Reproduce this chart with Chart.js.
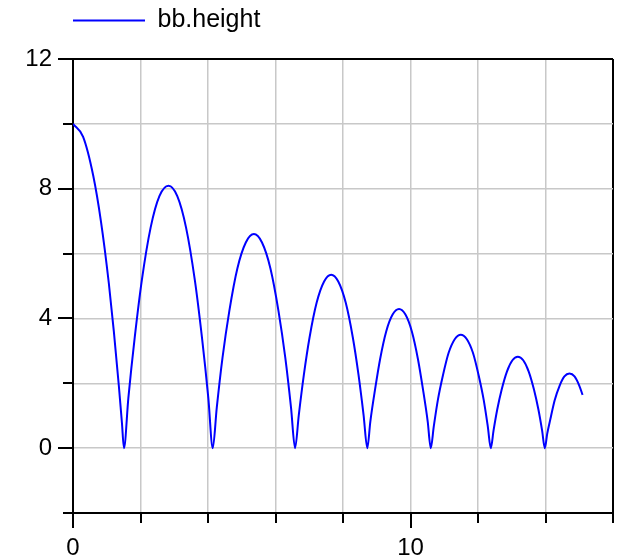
<!DOCTYPE html>
<html>
<head>
<meta charset="utf-8">
<title>bb.height</title>
<script src="https://cdn.jsdelivr.net/npm/chart.js@4/dist/chart.umd.min.js"></script>
<style>
  body { margin: 0; background: #fff; }
  #wrap { width: 618px; height: 560px; }
</style>
</head>
<body>
<div id="wrap"><canvas id="myChart" width="618" height="560"></canvas></div>
<script>
// bouncing ball, values
var seriesName = "bb.height";
var timeValues = [
  0, 0.30, 0.60, 0.83, 1.06, 1.21, 1.36, 1.45, 1.51,
  1.64, 1.83, 2.04, 2.30, 2.56, 2.83, 3.09, 3.35, 3.61, 3.82, 4.01, 4.14,
  4.26, 4.43, 4.63, 4.87, 5.12, 5.36, 5.60, 5.85, 6.09, 6.29, 6.46, 6.58,
  6.69, 6.84, 7.01, 7.22, 7.44, 7.65, 7.86, 8.08, 8.29, 8.46, 8.61, 8.72,
  8.81, 8.95, 9.10, 9.28, 9.47, 9.66, 9.85, 10.04, 10.22, 10.37, 10.51, 10.60,
  10.69, 10.81, 10.96, 11.13, 11.31, 11.49, 11.67, 11.85, 12.02, 12.17, 12.29, 12.38,
  12.46, 12.57, 12.70, 12.86, 13.02, 13.18, 13.34, 13.50, 13.66, 13.79, 13.90, 13.98,
  14.05, 14.16, 14.27, 14.42, 14.56, 14.71, 14.86, 15.00, 15.10
];
var heightValues = [
  10, 9.6, 8.4, 6.98, 5.10, 3.60, 1.90, 0.78, 0,
  1.54, 3.42, 5.18, 6.80, 7.77, 8.09, 7.77, 6.80, 5.18, 3.42, 1.54, 0,
  1.25, 2.79, 4.22, 5.54, 6.34, 6.60, 6.34, 5.54, 4.22, 2.79, 1.25, 0,
  1.02, 2.26, 3.42, 4.49, 5.14, 5.35, 5.14, 4.49, 3.42, 2.26, 1.02, 0,
  0.82, 1.81, 2.75, 3.60, 4.12, 4.29, 4.12, 3.60, 2.75, 1.81, 0.82, 0,
  0.67, 1.48, 2.24, 2.94, 3.36, 3.50, 3.36, 2.94, 2.24, 1.48, 0.67, 0,
  0.54, 1.19, 1.80, 2.37, 2.71, 2.82, 2.71, 2.37, 1.80, 1.19, 0.54, 0,
  0.44, 0.97, 1.47, 1.93, 2.21, 2.30, 2.21, 1.93, 1.64
];
var xTickLabels = [0, 10];
var yTickLabels = [0, 4, 8, 12];

var points = [];
for (var i = 0; i < timeValues.length; i++) {
  points.push({ x: timeValues[i], y: heightValues[i] });
}

Chart.defaults.font.family = "'Liberation Sans', Arial, sans-serif";
Chart.defaults.font.size = 24;
Chart.defaults.color = "#000";

function gridColor(ctx, lo, hi) {
  if (ctx.tick && (ctx.tick.value === lo || ctx.tick.value === hi)) return "#000";
  return "#c8c8c8";
}
function gridWidth(ctx, lo, hi) {
  if (ctx.tick && (ctx.tick.value === lo || ctx.tick.value === hi)) return 2;
  return 1.5;
}

// major / minor tick marks outside the plot
var tickMarks = {
  id: "tickMarks",
  afterDraw: function(chart) {
    var c = chart.ctx;
    var area = chart.chartArea;
    var xs = chart.scales.x;
    var ys = chart.scales.y;
    c.save();
    c.strokeStyle = "#000";
    c.lineWidth = 2;
    c.beginPath();
    ys.ticks.forEach(function(t) {
      var py = Math.round(ys.getPixelForValue(t.value));
      var len = yTickLabels.indexOf(t.value) >= 0 ? 15 : 10;
      c.moveTo(area.left - len, py);
      c.lineTo(area.left, py);
    });
    xs.ticks.forEach(function(t) {
      var px = Math.round(xs.getPixelForValue(t.value));
      var len = xTickLabels.indexOf(t.value) >= 0 ? 15 : 10;
      c.moveTo(px, area.bottom);
      c.lineTo(px, area.bottom + len);
    });
    c.stroke();
    c.restore();
  }
};

var chart = new Chart(document.getElementById("myChart"), {
  type: "line",
  data: {
    datasets: [
      {
        label: seriesName,
        data: points,
        borderColor: "#0000ff",
        backgroundColor: "#0000ff",
        borderWidth: 2,
        pointRadius: 0,
        cubicInterpolationMode: "monotone",
        fill: false
      }
    ]
  },
  options: {
    responsive: false,
    animation: false,
    devicePixelRatio: 1,
    layout: { padding: { top: 8, right: 5, left: 0, bottom: 0 } },
    plugins: {
      tooltip: { enabled: false },
      legend: {
        position: "top",
        align: "start",
        fullSize: false,
        labels: {
          padding: 0,
          boxWidth: 72,
          boxHeight: 0,
          font: { size: 25 }
        }
      }
    },
    scales: {
      x: {
        type: "linear",
        position: "bottom",
        min: 0,
        max: 16,
        ticks: {
          stepSize: 2,
          padding: 5,
          maxRotation: 0,
          autoSkip: false,
          callback: function(v) { return xTickLabels.indexOf(v) >= 0 ? String(v) : ""; }
        },
        grid: {
          drawTicks: true,
          tickLength: 16,
          tickColor: "rgba(0,0,0,0)",
          color: function(ctx) { return gridColor(ctx, 0, 16); },
          lineWidth: function(ctx) { return gridWidth(ctx, 0, 16); }
        },
        border: { display: true, color: "#000", width: 2 },
        afterFit: function(scale) { scale.height = 47; }
      },
      xTop: {
        type: "linear",
        position: "top",
        min: 0,
        max: 16,
        ticks: { display: false },
        grid: { display: false, drawTicks: false },
        border: { display: false },
        afterFit: function(scale) { scale.height = 16; }
      },
      y: {
        type: "linear",
        position: "left",
        min: -2,
        max: 12,
        ticks: {
          stepSize: 2,
          padding: 21,
          autoSkip: false,
          callback: function(v) { return yTickLabels.indexOf(v) >= 0 ? String(v) : ""; }
        },
        grid: {
          drawTicks: false,
          color: function(ctx) { return gridColor(ctx, -2, 12); },
          lineWidth: function(ctx) { return gridWidth(ctx, -2, 12); }
        },
        border: { display: true, color: "#000", width: 2 },
        afterFit: function(scale) { scale.width = 73; }
      }
    }
  },
  plugins: [tickMarks]
});
</script>
</body>
</html>
